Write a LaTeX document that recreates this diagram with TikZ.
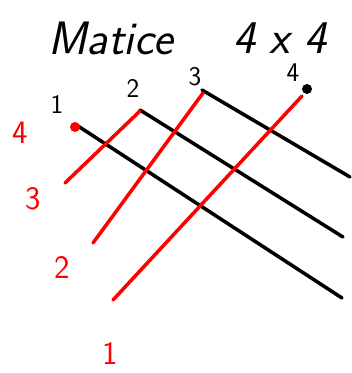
\documentclass[tikz,border=0pt]{standalone}
\usepackage{tikz}
\usetikzlibrary{calc}

\begin{document}
\begin{tikzpicture}[x=0.03cm,y=-0.03cm,
  pen/.style={line width=3pt,line cap=round},
  blk/.style={pen,black},
  rd/.style={pen,red},
  title/.style={font=\sffamily\itshape\fontsize{40}{40}\selectfont,inner sep=0pt},
  colnum/.style={font=\sffamily\fontsize{23}{23}\selectfont,black,inner sep=0pt},
  rownum/.style={font=\sffamily\fontsize{28}{28}\selectfont,red,inner sep=0pt}]
\useasboundingbox (0,0) rectangle (351,373);
\node[title] (name) at (111,38) {Matice};
\node[title] (size) at (280,38) {4 x 4};
% column starts and ends
\coordinate (c1) at (78,126);  \coordinate (e1) at (342,298);
\coordinate (c2) at (140,110); \coordinate (e2) at (343,237);
\coordinate (c3) at (202,90);  \coordinate (e3) at (350,177);
\coordinate (c4) at (307,89);
\foreach \k in {1,2,3} { \draw[blk] (c\k) -- (e\k); }
\fill (c4) circle (5);
% row lines
\coordinate (s3) at (65,183);  \coordinate (t3) at (140,111);
\coordinate (s2) at (93,243);  \coordinate (t2) at (203,93);
\coordinate (s1) at (113,300); \coordinate (t1) at (302,96);
\foreach \k in {1,2,3} { \draw[rd] (s\k) -- (t\k); }
\fill[red] (75,127) circle (5);
% labels
\foreach \txt/\px/\py [count=\k] in {1/57/104,2/133/88,3/195/77,4/293/73} {
  \node[colnum] (col\k) at (\px,\py) {\txt};
}
\foreach \txt/\px/\py [count=\k] in {4/20/133,3/33/199,2/62/267,1/110/353} {
  \node[rownum] (row\k) at (\px,\py) {\txt};
}
\end{tikzpicture}
\end{document}
